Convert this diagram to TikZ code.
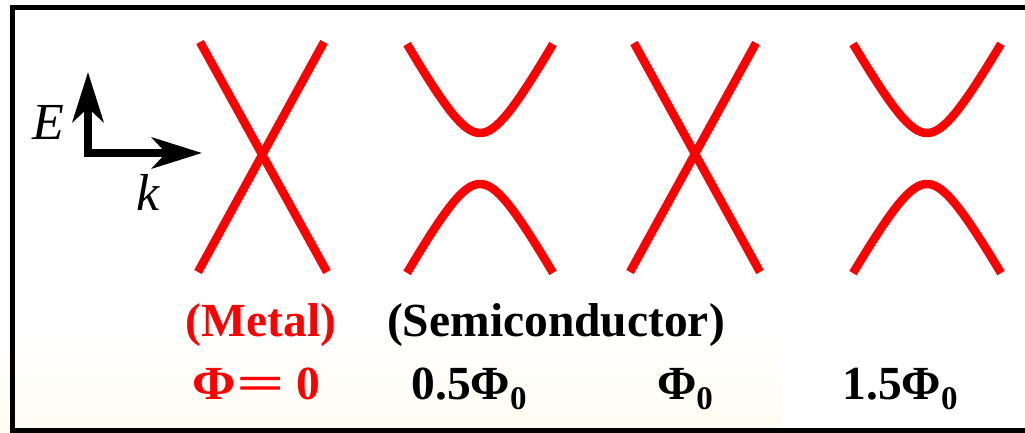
\documentclass[tikz,border=0pt]{standalone}
\usepackage{fontspec}
\usepackage{graphicx}
\setmainfont{Liberation Serif}
\usetikzlibrary{arrows.meta}
\definecolor{bandred}{RGB}{255,0,0}
\definecolor{cream}{RGB}{255,252,242}
\newcommand{\subz}{\raisebox{-0.22em}{\fontsize{33}{33}\selectfont 0}}
\begin{document}
\begin{tikzpicture}[x=1pt,y=-1pt,
  band/.style={draw=bandred,line width=8.5pt},
  axisarrow/.style={line width=8pt,line join=miter,
    {Stealth[length=50pt,width=31pt,inset=14pt]}-{Stealth[length=50pt,width=31pt,inset=14pt]}},
  lbl/.style={font=\fontsize{47.5}{47.5}\selectfont\bfseries,anchor=base,inner sep=0pt},
  axl/.style={font=\fontsize{52}{52}\selectfont\itshape,inner sep=0pt}]
\useasboundingbox (0,0) rectangle (1025,433);
\fill[white] (0,0) rectangle (1025,433);
\shade[top color=white,bottom color=cream] (0,330) rectangle (782,433);
% frame
\draw[line width=5pt,line join=miter] (1025,7.5) -- (12.5,7.5) -- (12.5,430.5) -- (1025,430.5);
% axes
\coordinate (eTip) at (88,72);
\coordinate (corner) at (88,153);
\coordinate (kTip) at (202,153);
\draw[axisarrow] (eTip) -- (corner) -- (kTip);
\node[axl] (E) at (48,122) {E};
\node[axl] (k) at (148,192) {k};
% metal X
\draw[band] (200,42) -- (327,272);
\draw[band] (324,42) -- (198,272);
% semiconductor 1
\draw[band] plot[domain=-7.3:7.3,samples=90] ({480+10*\x},{188-10*sqrt(30.25+3.32*\x*\x)});
\draw[band] plot[domain=-7.3:7.3,samples=90] ({480+10*\x},{129+10*sqrt(30.25+3.32*\x*\x)});
% X at Phi0
\draw[band] (634,43) -- (760,272);
\draw[band] (756,43) -- (630,272);
% semiconductor 2
\draw[band] plot[domain=-7.4:7.4,samples=90] ({927+10*\x},{188-10*sqrt(30.25+3.24*\x*\x)});
\draw[band] plot[domain=-7.4:7.4,samples=90] ({927+10*\x},{129+10*sqrt(30.25+3.24*\x*\x)});
% labels
\node[lbl,text=bandred] (metal) at (261,336) {(Metal)};
\node[lbl] (semi) at (556,336) {(Semiconductor)};
\node[lbl,text=bandred] (phizero) at (256,399) {\scalebox{1.1}[1]{Φ}\kern1pt\scalebox{1.8}[1]{=}\kern11pt 0};
\node[lbl] (half) at (469,399) {0.5Φ\subz};
\node[lbl] (one) at (685,399) {Φ\subz};
\node[lbl] (onehalf) at (900,399) {1.5Φ\subz};
\end{tikzpicture}
\end{document}
